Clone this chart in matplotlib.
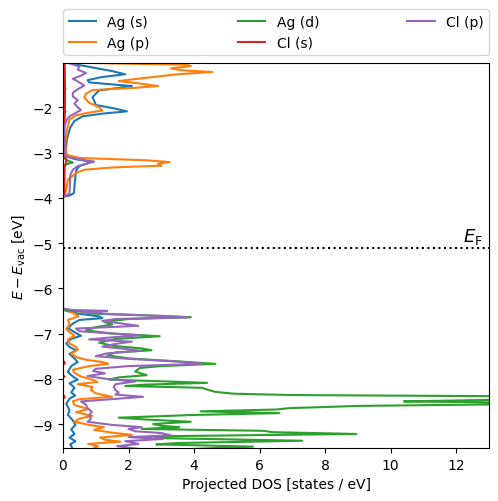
#!/usr/bin/env python3
"""
Projected density of states for AgCl, energy on the vertical axis.
"""

import numpy as np
import matplotlib
matplotlib.use('Agg')
import matplotlib.pyplot as plt

# energies [eV] and projected DOS values
ag_s_energy = [-0.9, -1.0, -1.04, -1.12, -1.2, -1.27, -1.33, -1.4, -1.45, -1.5, -1.53, -1.58,
               -1.63, -1.7, -1.78, -1.85, -1.95, -2.03, -2.09, -2.14, -2.2, -2.3, -2.45, -2.7,
               -3.0, -3.1, -3.15, -3.2, -3.25, -3.3, -3.4, -3.6, -3.9, -3.95, -3.98, -6.45,
               -6.5, -6.56, -6.62, -6.66, -6.7, -6.78, -6.88, -6.97, -7.05, -7.12, -7.22, -7.3,
               -7.37, -7.45, -7.55, -7.63, -7.72, -7.85, -7.95, -8.02, -8.1, -8.2, -8.3, -8.37,
               -8.44, -8.55, -8.7, -8.8, -8.92, -9.02, -9.12, -9.22, -9.3, -9.38, -9.45, -9.55]
ag_s_dos = [0.1, 0.2, 0.3, 0.9, 1.5, 1.9, 1.2, 0.75, 0.8, 1.6, 2.1, 1.6,
            1.1, 1.0, 0.9, 0.95, 1.0, 1.6, 1.95, 1.2, 0.6, 0.35, 0.22, 0.12,
            0.08, 0.15, 0.4, 0.85, 0.7, 0.5, 0.4, 0.37, 0.33, 0.2, 0.0, 0.0,
            0.1, 0.45, 1.1, 1.2, 0.5, 0.3, 0.15, 0.35, 0.55, 0.25, 0.1, 0.2,
            0.4, 0.2, 0.35, 0.45, 0.25, 0.15, 0.3, 0.45, 0.2, 0.35, 0.25, 0.37,
            0.2, 0.1, 0.2, 0.15, 0.3, 0.38, 0.25, 0.35, 0.2, 0.38, 0.22, 0.3]

ag_p_energy = [-0.9, -1.0, -1.03, -1.06, -1.09, -1.14, -1.18, -1.22, -1.27, -1.35, -1.42, -1.48,
               -1.53, -1.57, -1.62, -1.7, -1.78, -1.9, -2.0, -2.07, -2.13, -2.18, -2.27, -2.5,
               -2.8, -3.05, -3.12, -3.17, -3.21, -3.25, -3.29, -3.33, -3.38, -3.45, -3.6, -3.8,
               -3.95, -3.98, -6.45, -6.5, -6.56, -6.62, -6.7, -6.8, -6.9, -6.97, -7.05, -7.13,
               -7.22, -7.3, -7.36, -7.44, -7.52, -7.58, -7.63, -7.67, -7.72, -7.8, -7.87, -7.95,
               -8.02, -8.07, -8.12, -8.18, -8.25, -8.32, -8.4, -8.45, -8.5, -8.58, -8.67, -8.74,
               -8.82, -8.88, -8.95, -9.02, -9.07, -9.13, -9.2, -9.24, -9.3, -9.35, -9.39, -9.44,
               -9.49, -9.55]
ag_p_dos = [0.05, 0.1, 1.5, 3.8, 3.9, 3.3, 3.6, 4.55, 3.5, 2.5, 1.7, 2.4,
            2.9, 2.2, 0.9, 0.7, 0.65, 0.8, 1.1, 1.2, 0.7, 0.4, 0.2, 0.12,
            0.07, 0.1, 0.5, 2.5, 3.25, 2.9, 3.0, 1.5, 0.65, 0.4, 0.15, 0.1,
            0.05, 0.0, 0.0, 0.15, 0.35, 0.47, 0.15, 0.2, 0.1, 0.2, 0.35, 0.15,
            0.2, 0.4, 0.45, 0.25, 0.4, 0.7, 1.2, 1.38, 0.8, 0.3, 0.35, 0.55,
            0.9, 1.05, 0.45, 0.9, 0.85, 1.0, 1.5, 0.5, 0.3, 0.35, 0.77, 0.4,
            0.9, 0.5, 0.35, 0.8, 1.25, 0.95, 1.6, 2.1, 1.13, 1.3, 1.75, 0.77,
            1.07, 0.9]

ag_d_energy = [-0.9, -1.55, -1.6, -1.65, -2.05, -2.1, -2.15, -3.1, -3.18, -3.22, -3.26, -3.35,
               -6.48, -6.52, -6.56, -6.6, -6.64, -6.68, -6.74, -6.8, -6.86, -6.93, -7.0, -7.06,
               -7.12, -7.2, -7.27, -7.33, -7.37, -7.42, -7.48, -7.55, -7.62, -7.67, -7.72, -7.76,
               -7.84, -7.92, -7.97, -8.02, -8.06, -8.09, -8.13, -8.16, -8.2, -8.25, -8.29, -8.33,
               -8.36, -8.39, -8.44, -8.48, -8.5, -8.53, -8.56, -8.6, -8.65, -8.68, -8.72, -8.76,
               -8.8, -8.86, -8.9, -8.95, -9.0, -9.04, -9.07, -9.11, -9.15, -9.18, -9.22, -9.27,
               -9.31, -9.37, -9.42, -9.45, -9.5, -9.55]
ag_d_dos = [0.0, 0.0, 0.08, 0.0, 0.0, 0.08, 0.0, 0.0, 0.15, 0.3, 0.1, 0.0,
            0.0, 0.6, 0.9, 2.5, 3.9, 2.0, 1.25, 1.5, 1.0, 0.7, 1.5, 2.95,
            1.6, 1.1, 1.5, 2.4, 2.7, 1.6, 1.35, 2.0, 3.6, 4.65, 3.0, 2.35,
            2.2, 2.55, 1.7, 1.4, 3.2, 4.4, 2.5, 1.9, 4.25, 4.45, 4.65, 5.2,
            7.0, 14.5, 15.0, 12.0, 10.4, 14.0, 14.0, 9.0, 6.9, 6.5, 4.2, 6.6,
            4.0, 1.7, 2.5, 3.9, 2.75, 3.0, 3.55, 2.4, 6.1, 6.4, 8.95, 3.0,
            2.8, 7.3, 3.5, 2.85, 5.8, 4.0]

cl_s_energy = [-0.9, -1.5, -2.0, -2.5, -3.0, -3.2, -3.3, -3.95, -3.98, -6.45, -7.6, -7.65,
               -7.7, -7.92, -7.95, -7.98, -8.35, -8.4, -8.45, -9.55]
cl_s_dos = [0.05, 0.06, 0.06, 0.04, 0.04, 0.1, 0.05, 0.04, 0.0, 0.0, 0.0, 0.06,
            0.0, 0.0, 0.05, 0.0, 0.0, 0.05, 0.0, 0.0]

cl_p_energy = [-0.9, -1.0, -1.05, -1.1, -1.17, -1.24, -1.3, -1.37, -1.45, -1.52, -1.6, -1.68,
               -1.76, -1.84, -1.92, -2.0, -2.06, -2.12, -2.2, -2.27, -2.4, -2.7, -3.05, -3.1,
               -3.15, -3.2, -3.24, -3.3, -3.38, -3.5, -3.9, -3.95, -3.98, -6.45, -6.48, -6.5,
               -6.53, -6.57, -6.61, -6.64, -6.68, -6.72, -6.78, -6.83, -6.89, -6.95, -7.0, -7.04,
               -7.09, -7.13, -7.18, -7.23, -7.29, -7.34, -7.38, -7.44, -7.5, -7.56, -7.62, -7.67,
               -7.72, -7.78, -7.83, -7.88, -7.94, -8.0, -8.06, -8.12, -8.18, -8.25, -8.3, -8.35,
               -8.4, -8.45, -8.5, -8.57, -8.65, -8.73, -8.8, -8.88, -8.95, -9.02, -9.07, -9.11,
               -9.16, -9.2, -9.25, -9.29, -9.33, -9.38, -9.44, -9.49, -9.55]
cl_p_dos = [0.0, 0.05, 0.3, 0.5, 0.45, 0.7, 0.55, 0.3, 0.5, 0.65, 0.45, 0.3,
            0.3, 0.45, 0.35, 0.45, 0.55, 0.4, 0.2, 0.12, 0.05, 0.02, 0.03, 0.15,
            0.5, 0.95, 0.75, 0.45, 0.3, 0.22, 0.2, 0.1, 0.0, 0.0, 0.3, 1.35,
            0.6, 1.5, 3.0, 3.8, 1.6, 1.2, 1.8, 2.3, 0.4, 0.5, 1.5, 2.35,
            1.4, 0.8, 2.1, 1.6, 1.2, 1.9, 2.35, 1.33, 1.0, 2.0, 3.5, 4.25,
            2.0, 1.0, 0.92, 1.28, 0.75, 1.3, 2.2, 1.6, 1.55, 1.6, 1.7, 1.6,
            2.44, 1.5, 0.55, 0.7, 0.75, 0.88, 0.8, 0.85, 0.75, 1.5, 2.4, 2.0,
            2.2, 3.0, 3.3, 2.0, 3.05, 1.9, 2.3, 1.65, 2.3]

fermi_level = -5.11

series = [
    ('Ag (s)', ag_s_energy, ag_s_dos),
    ('Ag (p)', ag_p_energy, ag_p_dos),
    ('Ag (d)', ag_d_energy, ag_d_dos),
    ('Cl (s)', cl_s_energy, cl_s_dos),
    ('Cl (p)', cl_p_energy, cl_p_dos),
]

fig = plt.figure(figsize=(4.98, 5.02), dpi=100)
ax = fig.add_axes([0.1265, 0.1056, 0.8555, 0.767])

for label, energy, dos in series:
    ax.plot(np.array(dos), np.array(energy), label=label)

ax.axhline(fermi_level, color='k', ls=':')
ax.text(12.2, fermi_level + 0.05, r'$E_\mathrm{F}$', fontsize=13, va='bottom')

ax.set_xlim(0, 13)
ax.set_ylim(-9.53, -1.02)
ax.set_xlabel('Projected DOS [states / eV]')
ax.set_ylabel(r'$E - E_\mathrm{vac}$ [eV]')

ax.legend(bbox_to_anchor=(0., 1.02, 1., .102), loc='lower left', ncol=3,
          mode='expand', borderaxespad=0.)

fig.savefig('out.png', dpi=100)
